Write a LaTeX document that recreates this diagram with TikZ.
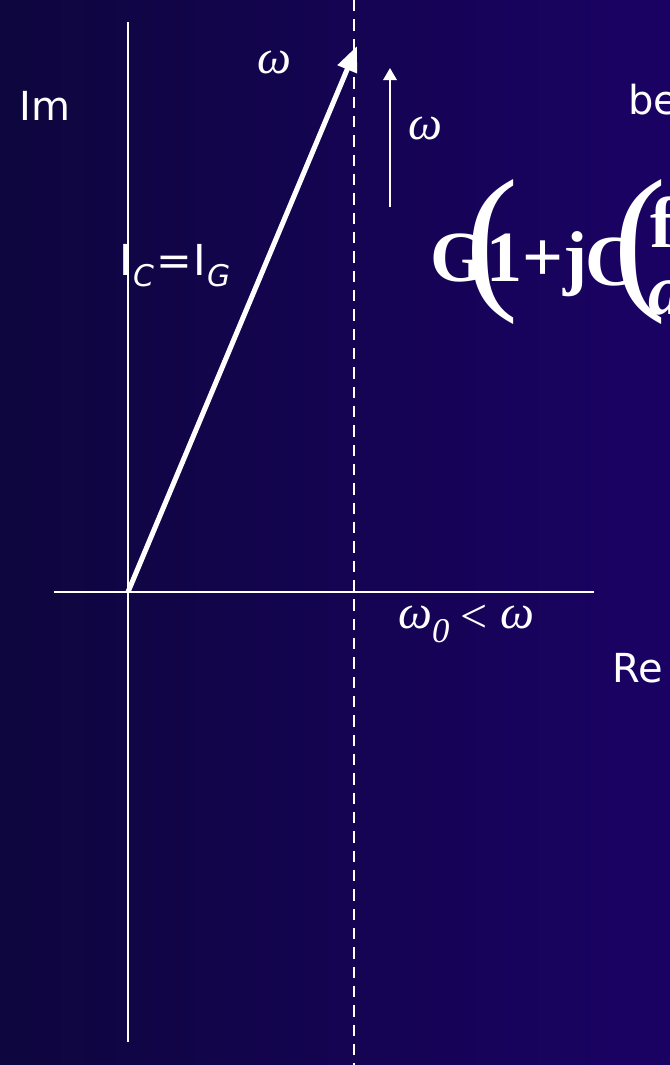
\documentclass[tikz,border=0pt]{standalone}
\usepackage{fontspec}
\setmainfont{DejaVu Sans}
\newfontfamily\serif{Liberation Serif}
\usetikzlibrary{arrows.meta}
\begin{document}
\begin{tikzpicture}[x=0.75pt,y=-0.75pt,
  axis/.style={white,line width=1.9pt},
  lbl/.style={text=white,inner sep=0pt,font=\fontsize{30}{34}\selectfont},
  om/.style={text=white,inner sep=0pt,font=\serif\itshape\fontsize{36}{40}\selectfont},
  garb/.style={text=white,inner sep=0pt,font=\serif\bfseries\fontsize{54}{56}\selectfont},
  paren/.style={text=white,inner sep=0pt,font=\serif\fontsize{120}{120}\selectfont},
]
\shade[left color={rgb,255:red,14;green,6;blue,62}, right color={rgb,255:red,26;green,2;blue,100}] (0,0) rectangle (670,1065);
\useasboundingbox (0,0) rectangle (670,1065);
% coordinates
\coordinate (O) at (128,592);
\coordinate (imtop) at (128,22);
\coordinate (imbot) at (128,1042);
\coordinate (releft) at (54,592);
\coordinate (reright) at (594,592);
\coordinate (dtop) at (354,0);
\coordinate (dbot) at (354,1065);
\coordinate (tip) at (357,46);
\coordinate (sa) at (390,207);
\coordinate (sb) at (390,68);
% axes
\draw[axis] (imtop) -- (imbot);
\draw[axis] (releft) -- (reright);
\draw[white,line width=1.5pt,dash pattern=on 8.5pt off 6pt] (dtop) -- (dbot);
% phasor
\draw[white,line width=3.8pt,-{Triangle[length=19pt,width=15pt]}] (O) -- (tip);
\draw[white,line width=1.6pt,-{Triangle[length=9pt,width=10pt]}] (sa) -- (sb);
% labels
\node[lbl] (im) at (45,106) {Im};
\node[lbl,anchor=west,font=\fontsize{32}{36}\selectfont] (icig) at (119,266) {I\kern1pt$_{\mathit{C}}$\kern1pt=\kern1pt I\kern1pt$_{\mathit{G}}$};
\node[lbl,anchor=west] (be) at (628,100) {be};
\node[lbl,anchor=west] (re) at (612,668) {Re};
\node[om] (w1) at (274,62) {ω};
\node[om] (w2) at (425,128) {ω};
\node[om,anchor=base west] (w3) at (398,628) {ω\raisebox{-0.3em}{\fontsize{26}{28}\selectfont 0}\hspace{8pt}\raisebox{-0.1em}{\upshape<}\hspace{10pt}ω};
% garbled formula
\node[garb,anchor=west] (g) at (430,264) {G1+j};
\node[paren] (p1) at (492,252) {(};
\node[garb,anchor=west] (c) at (585,262) {C};
\node[paren] (p2) at (640,252) {(};
\node[garb,anchor=west,font=\serif\bfseries\itshape\fontsize{54}{56}\selectfont] (a) at (648,298) {a};
\node[garb,anchor=west] (f) at (650,222) {f};
\end{tikzpicture}
\end{document}
